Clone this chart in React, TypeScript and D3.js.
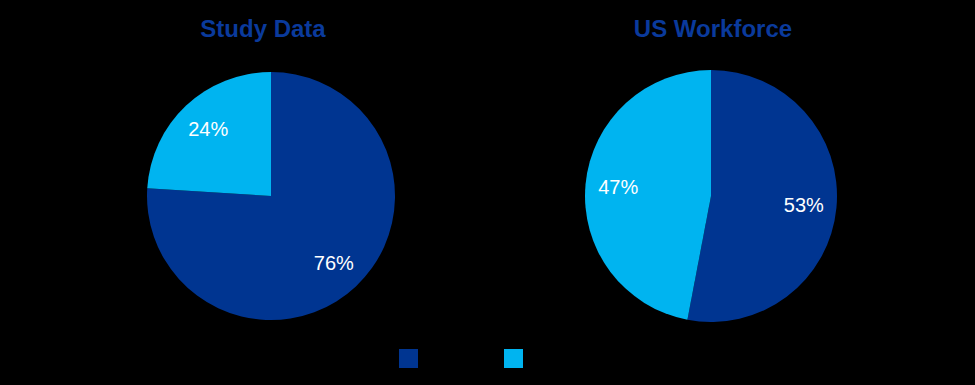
import React from "react";
import * as d3 from "d3";

const seriesNames = ["Series A", "Series B"];
const pieTitles = ["Study Data", "US Workforce"];
const studyValues = [76, 24];
const workforceValues = [53, 47];
const colors = ["#003591", "#00B4F0"];

const W = 975;
const H = 385;

export default function App() {
  const pies = [
    { title: pieTitles[0], values: studyValues, cx: 271, cy: 196, r: 124, tx: 263 },
    { title: pieTitles[1], values: workforceValues, cx: 711, cy: 196, r: 126, tx: 713 },
  ];
  const pieGen = d3.pie<number>().sort(null).value((d) => d);
  const legendX = d3.scaleOrdinal<string, number>().domain(seriesNames).range([399, 504]);

  return (
    <svg
      width={W}
      height={H}
      style={{ position: "absolute", left: 0, top: 0, background: "#000" }}
      fontFamily="'Liberation Sans', Arial, sans-serif"
    >
      <rect width={W} height={H} fill="#000" />
      {pies.map((p, pi) => {
        const arc = d3.arc<d3.PieArcDatum<number>>().innerRadius(0).outerRadius(p.r);
        const labelArc = d3
          .arc<d3.PieArcDatum<number>>()
          .innerRadius(p.r * 0.74)
          .outerRadius(p.r * 0.74);
        const arcs = pieGen(p.values);
        return (
          <g key={pi}>
            <text
              x={p.tx}
              y={37}
              textAnchor="middle"
              fontSize={24}
              fontWeight="bold"
              fill="#0A3A9C"
            >
              {p.title}
            </text>
            <g transform={`translate(${p.cx},${p.cy})`}>
              {arcs.map((a, i) => (
                <path key={i} d={arc(a) || ""} fill={colors[i]} />
              ))}
              {arcs.map((a, i) => {
                const [x, y] = labelArc.centroid(a);
                return (
                  <text
                    key={"l" + i}
                    x={x}
                    y={y + 7}
                    textAnchor="middle"
                    fontSize={20}
                    fill="#fff"
                  >
                    {a.data + "%"}
                  </text>
                );
              })}
            </g>
          </g>
        );
      })}
      {seriesNames.map((s, i) => (
        <rect key={s} x={legendX(s)} y={349} width={19} height={19} fill={colors[i]} />
      ))}
    </svg>
  );
}
